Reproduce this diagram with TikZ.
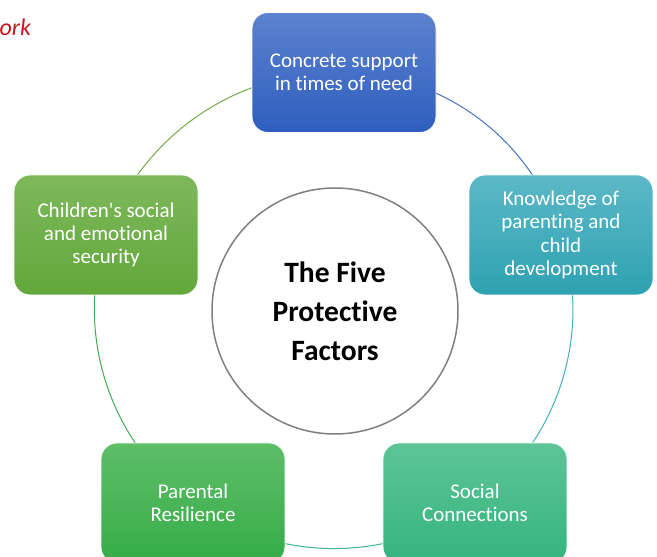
\documentclass[tikz,border=0pt]{standalone}
\usepackage{fontspec}
\setmainfont{Carlito}[Ligatures={TeXOff,CommonOff}]
\usetikzlibrary{backgrounds}
\definecolor{ringgray}{RGB}{128,128,128}
\definecolor{redtxt}{RGB}{196,24,30}
\definecolor{blueT}{RGB}{92,130,206}\definecolor{blueB}{RGB}{46,94,190}
\definecolor{tealT}{RGB}{92,184,198}\definecolor{tealB}{RGB}{46,162,178}
\definecolor{sgT}{RGB}{94,196,150}\definecolor{sgB}{RGB}{52,180,126}
\definecolor{grT}{RGB}{94,190,104}\definecolor{grB}{RGB}{54,172,72}
\definecolor{olT}{RGB}{126,184,92}\definecolor{olB}{RGB}{98,168,58}
\definecolor{arcBlue}{RGB}{68,114,196}
\definecolor{arcTeal}{RGB}{64,176,192}
\definecolor{arcSG}{RGB}{60,180,140}
\definecolor{arcGreen}{RGB}{62,172,80}
\definecolor{arcOlive}{RGB}{112,173,71}
\tikzset{
  factor/.style={rounded corners=16pt, minimum width=184pt, minimum height=120pt,
    draw=white, line width=0.8pt, text=white, align=center,
    font=\fontsize{21}{23.3}\selectfont},
  ringarc/.style={line width=1pt, bend left=36, looseness=0.94},
}
\begin{document}
\begin{tikzpicture}[x=1pt,y=1pt]
\useasboundingbox (0,0) rectangle (657,557);
\clip (0,0) rectangle (657,557);
\node[anchor=base west, text=redtxt, font=\fontsize{24}{28}\selectfont\itshape] (ork) at (-4,521) {ork};
\node[factor, top color=blueT, bottom color=blueB] (top) at (344,484.5) {Concrete support\\in times of need};
\node[factor, top color=tealT, bottom color=tealB] (right) at (561,322) {Knowledge of\\parenting and\\child\\development};
\node[factor, top color=sgT, bottom color=sgB] (br) at (475,54) {Social\\Connections};
\node[factor, top color=grT, bottom color=grB] (bl) at (193,54) {Parental\\Resilience};
\node[factor, top color=olT, bottom color=olB] (left) at (106,322) {Children's social\\and emotional\\security};
\node[circle, draw=ringgray, line width=1.5pt, fill=white, minimum size=246pt, align=center,
  font=\fontsize{29.5}{39}\selectfont\bfseries] (hub) at (335,246) {The Five\\Protective\\Factors};
\begin{scope}[on background layer]
\draw[ringarc, arcBlue] (top.center) to (right.center);
\draw[ringarc, arcTeal] (right.center) to (br.center);
\draw[ringarc, arcSG] (br.center) to (bl.center);
\draw[ringarc, arcGreen] (bl.center) to (left.center);
\draw[ringarc, arcOlive] (left.center) to (top.center);
\end{scope}
\end{tikzpicture}
\end{document}
